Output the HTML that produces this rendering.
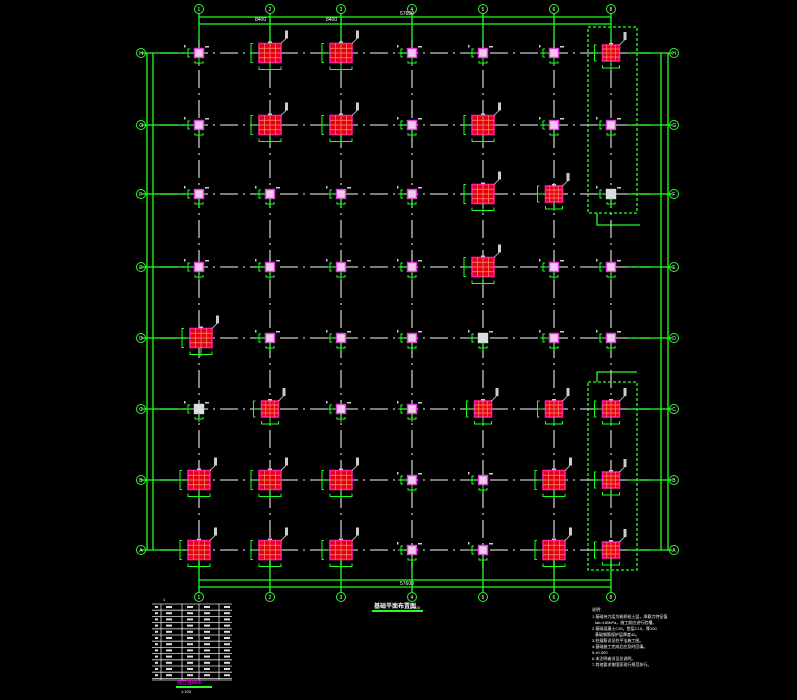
<!DOCTYPE html>
<html><head><meta charset="utf-8"><style>
html,body{margin:0;padding:0;background:#000;width:797px;height:700px;overflow:hidden}
svg{display:block}
text{font-family:"Liberation Sans","Noto Sans CJK SC",sans-serif;fill:#fff}
</style></head><body>
<svg id="s" width="797" height="700" viewBox="0 0 797 700">
<g stroke="#2f2" fill="none" stroke-width="1.3">
<line x1="199" y1="17" x2="611" y2="17"/><line x1="199" y1="24" x2="611" y2="24"/>
<line x1="199" y1="580" x2="611" y2="580"/><line x1="199" y1="587" x2="611" y2="587"/>
<line x1="147" y1="53" x2="147" y2="550"/><line x1="153" y1="53" x2="153" y2="550"/>
<line x1="661" y1="53" x2="661" y2="550"/><line x1="668" y1="53" x2="668" y2="550"/>
<rect x="588" y="27" width="49" height="186" stroke-dasharray="3,2"/>
<rect x="588" y="382" width="49" height="188" stroke-dasharray="3,2"/>
<polyline points="597,213 597,225 640,225"/>
<polyline points="597,382 597,372 637,372"/>
<line x1="372" y1="611" x2="423" y2="611" stroke-width="2"/>
<line x1="176" y1="687" x2="212" y2="687" stroke-width="2"/>
</g>
<g id="grid"></g>
<g id="cols"></g>
<g id="bub" stroke="#2f2" fill="none" stroke-width="1"></g>
<g font-size="5">
<text x="255" y="21">8400</text><text x="326" y="21">8400</text><text x="400" y="15">57600</text>
<text x="400" y="585">57600</text>
<text x="163" y="601" font-size="4">1</text>
</g>
<text x="374" y="608" font-size="6" font-weight="bold">基础平面布置图</text>
<text x="410" y="609" font-size="4">1:100</text>
<g font-size="4">
<text x="592" y="611">说明：</text>
<text x="592" y="618">1.基础持力层为粉质粘土层，承载力特征值</text>
<text x="595" y="624">fak=180kPa，施工前应进行验槽。</text>
<text x="592" y="630">2.基础混凝土C30，垫层C15，厚100</text>
<text x="595" y="636">基础钢筋保护层厚度40。</text>
<text x="592" y="642">3.柱插筋详见柱平法施工图。</text>
<text x="592" y="648">4.基础施工完成后应及时回填。</text>
<text x="592" y="654">5.±0.000</text>
<text x="592" y="660">6.未注明者详见总说明。</text>
<text x="592" y="666">7.其他要求按国家现行规范执行。</text>
</g>
<g stroke="#ddd" stroke-width="0.8" fill="none" id="tbl"></g>
<text x="177" y="684" font-size="5" style="fill:#f0f">独立基础表</text>
<text x="181" y="693" font-size="4">1:100</text>
<script>
var NS="http://www.w3.org/2000/svg";
function el(p,t,a){var e=document.createElementNS(NS,t);for(var k in a)e.setAttribute(k,a[k]);document.getElementById(p).appendChild(e);return e;}
var X=[199,270,341,412,483,554,611],Y=[53,125,194,267,338,409,480,550];
var XL=['1','2','3','4','5','6','8'],YL=['H','G','F','E','D','C','B','A'];
Y.forEach(function(y){el('grid','line',{x1:160,y1:y,x2:650,y2:y,stroke:'#c8c8c8','stroke-width':1.3,'stroke-dasharray':'18,5,2,5'});
 el('grid','line',{x1:141,y1:y,x2:188,y2:y,stroke:'#2f2','stroke-width':1.3});
 el('grid','line',{x1:628,y1:y,x2:672,y2:y,stroke:'#2f2','stroke-width':1.3});});
X.forEach(function(x){el('grid','line',{x1:x,y1:40,x2:x,y2:570,stroke:'#c8c8c8','stroke-width':1.3,'stroke-dasharray':'18,5,2,5'});
 el('grid','line',{x1:x,y1:13,x2:x,y2:44,stroke:'#2f2','stroke-width':1.3});
 el('grid','line',{x1:x,y1:562,x2:x,y2:592,stroke:'#2f2','stroke-width':1.3});});
X.forEach(function(x,i){[9,597].forEach(function(y){el('bub','circle',{cx:x,cy:y,r:4.5});var t=el('bub','text',{x:x-1.5,y:y+2,'font-size':5,stroke:'none'});t.textContent=XL[i];});});
Y.forEach(function(y,i){[141,674].forEach(function(x){el('bub','circle',{cx:x,cy:y,r:4.5});var t=el('bub','text',{x:x-1.8,y:y+2,'font-size':5,stroke:'none'});t.textContent=YL[i];});});
var M=[
[0,1,1,0,0,0,2],
[0,1,1,0,1,0,0],
[0,0,0,0,1,2,0],
[0,0,0,0,1,0,0],
[1,0,0,0,0,0,0],
[0,2,0,0,2,2,2],
[1,1,1,0,0,1,2],
[1,1,1,0,0,1,2]];
var grey={'2,6':1,'4,4':1,'5,0':1};
Y.forEach(function(y,r){X.forEach(function(x,c){var s=M[r][c];
 if(s){var w=s==1?22:17,h=s==1?19:16,cx=x+(r==4&&c==0?2:0);
  var x0=cx-w/2,y0=y-h/2;
  el('cols','rect',{x:x0,y:y0,width:w,height:h,fill:'#e00010',stroke:'#ff1aa0','stroke-width':1.6});
  for(var k=1;k<4;k++){el('cols','line',{x1:x0+w*k/4,y1:y0,x2:x0+w*k/4,y2:y0+h,stroke:'#ff9070','stroke-width':0.7});
   el('cols','line',{x1:x0,y1:y0+h*k/4,x2:x0+w,y2:y0+h*k/4,stroke:'#ff9070','stroke-width':0.7});}
  el('cols','polyline',{points:(x0-6)+','+y0+' '+(x0-8)+','+y0+' '+(x0-8)+','+(y0+h)+' '+(x0-6)+','+(y0+h),stroke:'#2f2',fill:'none','stroke-width':1});
  el('cols','line',{x1:x0-8,y1:y,x2:x0,y2:y,stroke:'#2f2','stroke-width':1});
  el('cols','polyline',{points:x0+','+(y0+h+4)+' '+x0+','+(y0+h+7)+' '+(x0+w)+','+(y0+h+7)+' '+(x0+w)+','+(y0+h+4),stroke:'#2f2',fill:'none','stroke-width':1});
  el('cols','line',{x1:cx,y1:y0+h,x2:cx,y2:y0+h+9,stroke:'#2f2','stroke-width':1});
  el('cols','line',{x1:x0+w,y1:y0,x2:x0+w+5,y2:y0-5,stroke:'#fff','stroke-width':0.6});
  el('cols','rect',{x:x0+w+4,y:y0-13,width:3,height:8,fill:'#ccc'});
  el('cols','rect',{x:cx-2,y:y0-2,width:4,height:1.5,fill:'#ccc'});
 } else {var g=grey[r+','+c];
  el('cols','rect',{x:x-4.5,y:y-4.5,width:9,height:9,fill:g?'#ddd':'#f2c8ee',stroke:g?'#ddd':'#e040e0','stroke-width':1.4});
  el('cols','polyline',{points:(x-9)+','+(y-4)+' '+(x-11)+','+(y-4)+' '+(x-11)+','+(y+4)+' '+(x-9)+','+(y+4),stroke:'#2f2',fill:'none','stroke-width':1});
  el('cols','line',{x1:x-14,y1:y,x2:x-5,y2:y,stroke:'#2f2','stroke-width':1});
  el('cols','polyline',{points:(x-4)+','+(y+8)+' '+(x-4)+','+(y+10)+' '+(x+4)+','+(y+10)+' '+(x+4)+','+(y+8),stroke:'#2f2',fill:'none','stroke-width':1});
  el('cols','line',{x1:x,y1:y+4,x2:x,y2:y+13,stroke:'#2f2','stroke-width':1});
  el('cols','rect',{x:x+6,y:y-7,width:4,height:1.5,fill:'#ccc'});
  el('cols','rect',{x:x-15,y:y-8,width:1.5,height:2.5,fill:'#ccc'});
 }});});
var tx=[152,161,182,199,219,232];
for(var i=0;i<=12;i++){var yy=604+i*6.2;el('tbl','line',{x1:152,y1:yy,x2:232,y2:yy});
 if(i<12)for(var j=0;j<5;j++){el('tbl','rect',{x:tx[j]+2+(j?3:1),y:yy+2,width:j?6:3,height:2,fill:'#ddd',stroke:'none'});}}
el('tbl','line',{x1:152,y1:680,x2:232,y2:680});
tx.slice(1,5).forEach(function(x){el('tbl','line',{x1:x,y1:604,x2:x,y2:680});});
</script>
</svg>
</body></html>
